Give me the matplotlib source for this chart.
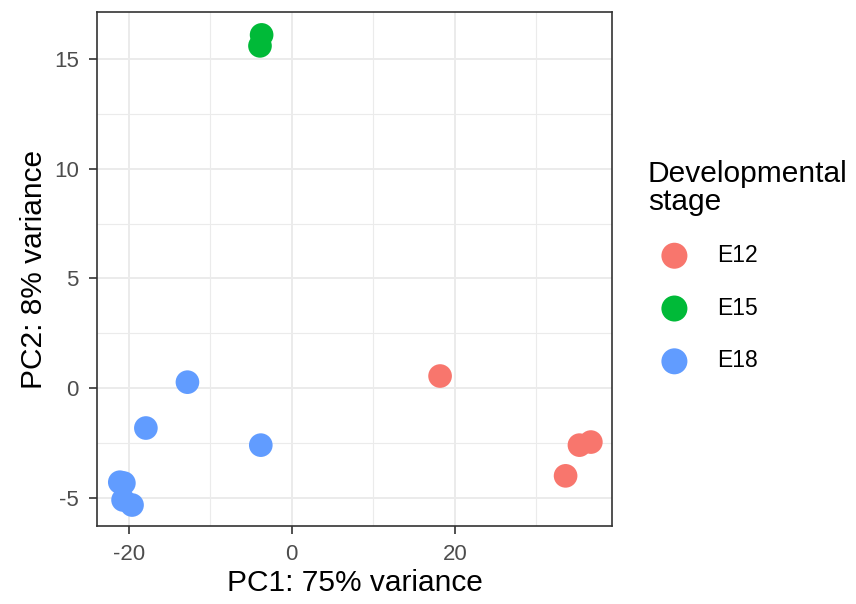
import matplotlib.pyplot as plt
from matplotlib.ticker import MultipleLocator

plt.rcParams['font.family'] = ['Liberation Sans', 'DejaVu Sans']
plt.rcParams['axes.unicode_minus'] = False

# PCA coordinates per developmental stage
e12_pc1 = [18.2, 35.3, 36.7, 33.6]
e12_pc2 = [0.55, -2.6, -2.46, -4.0]
e15_pc1 = [-3.7, -3.9]
e15_pc2 = [16.1, 15.6]
e18_pc1 = [-12.8, -17.9, -3.8, -21.1, -20.6, -20.7, -19.6]
e18_pc2 = [0.27, -1.82, -2.6, -4.29, -4.33, -5.1, -5.33]

groups = ['E12', 'E15', 'E18']
colores = ['#F8766D', '#00BA38', '#619CFF']

fig = plt.figure(figsize=(8.56, 6.04), dpi=100)
ax = fig.add_axes([0.1133, 0.129, 0.6017, 0.851])

datos = [(e12_pc1, e12_pc2), (e15_pc1, e15_pc2), (e18_pc1, e18_pc2)]
for (x, y), g, c in zip(datos, groups, colores):
    ax.scatter(x, y, s=290, color=c, label=g, edgecolors='none', zorder=3)

ax.set_xlim(-23.9, 39.3)
ax.set_ylim(-6.29, 17.14)
ax.xaxis.set_major_locator(MultipleLocator(20))
ax.xaxis.set_minor_locator(MultipleLocator(10))
ax.yaxis.set_major_locator(MultipleLocator(5))
ax.yaxis.set_minor_locator(MultipleLocator(2.5))
ax.grid(which='major', color='#EBEBEB', lw=1.4, zorder=0)
ax.grid(which='minor', color='#EBEBEB', lw=0.8, zorder=0)
ax.set_axisbelow(True)
ax.tick_params(which='minor', length=0)
ax.tick_params(which='major', length=6, width=1.2, color='#333333', pad=7,
               labelsize=16, labelcolor='#4D4D4D')
for s in ax.spines.values():
    s.set_color('#333333')
    s.set_linewidth(1.2)

ax.set_xlabel('PC1: 75% variance', fontsize=21.5, labelpad=3)
ax.set_ylabel('PC2: 8% variance', fontsize=21.5, labelpad=4)

# titulo de la leyenda
fig.text(0.757, 0.6987, 'Developmental', fontsize=21.5, va='baseline')
fig.text(0.757, 0.6523, 'stage', fontsize=21.5, va='baseline')

leg = fig.legend(loc='center left', bbox_to_anchor=(0.7477, 0.490),
                 frameon=False, fontsize=16.5, labelspacing=1.3,
                 handletextpad=0.85, borderpad=0, markerscale=1.1)

fig.savefig('out.png', dpi=100)
